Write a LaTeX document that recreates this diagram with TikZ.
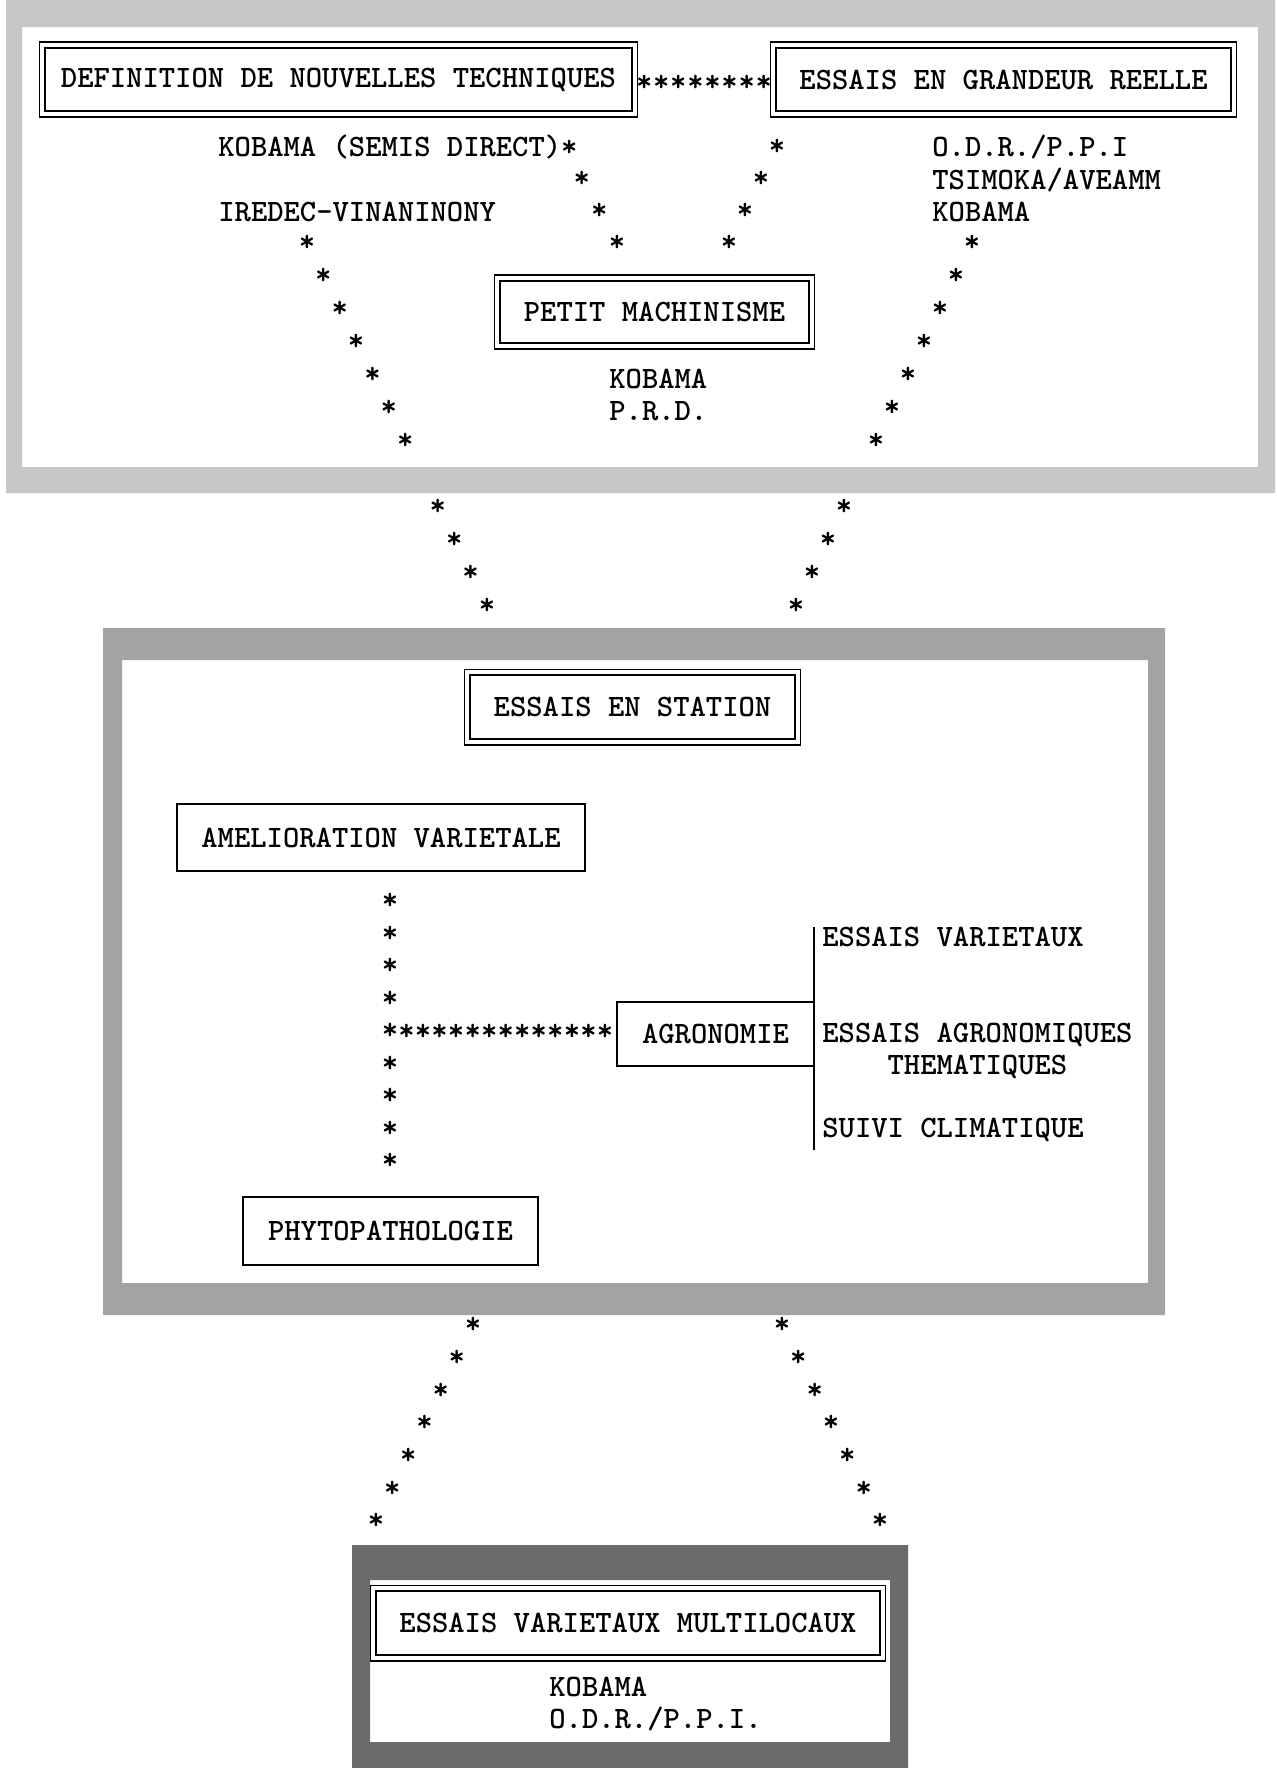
\documentclass[tikz,border=0pt]{standalone}
\usetikzlibrary{positioning,calc}
\newcommand{\prfont}{\fontsize{17.7}{18.4}\selectfont\ttfamily\bfseries}
\tikzstyle{box}=[draw,line width=1.1pt,inner sep=0pt,font=\prfont]
\tikzstyle{dbox}=[box,double,line width=0.9pt,double distance=2.2pt]
\tikzstyle{lbl}=[inner sep=0pt,anchor=base west,align=left,font=\prfont]
\tikzstyle{starmark}=[inner sep=0pt,anchor=base,yshift=-6.8pt,font=\prfont]
\tikzstyle{frm}=[even odd rule]

\begin{document}
\begin{tikzpicture}[x=0.02cm,y=-0.02cm]
\useasboundingbox (0,0) rectangle (1276,1768);

% cadres
\fill[frm,black!22] (6,0) rectangle (1275,493) (22,27) rectangle (1258,467);
\fill[frm,black!36] (103,628) rectangle (1165,1315) (122,660) rectangle (1148,1283);
\fill[frm,black!58] (352,1545) rectangle (908,1768) (370,1580) rectangle (890,1742);

% boites
\node[dbox,minimum width=11.86cm,minimum height=1.38cm] (def) at (338.5,79.5) {DEFINITION DE NOUVELLES TECHNIQUES};
\node[dbox,minimum width=9.22cm,minimum height=1.38cm] (reel) at (1003.5,79.5) {ESSAIS EN GRANDEUR REELLE};
\node[dbox,minimum width=6.3cm,minimum height=1.36cm] (petit) at (654.5,312) {PETIT MACHINISME};
\node[dbox,minimum width=6.62cm,minimum height=1.4cm] (station) at (632.5,707) {ESSAIS EN STATION};
\node[box,minimum width=8.16cm,minimum height=1.34cm] (amelio) at (381,837.5) {AMELIORATION VARIETALE};
\node[box,minimum width=3.94cm,minimum height=1.28cm] (agro) at (715.5,1034) {AGRONOMIE};
\node[box,minimum width=5.9cm,minimum height=1.36cm] (phyto) at (390.5,1231) {PHYTOPATHOLOGIE};
\node[dbox,minimum width=10.2cm,minimum height=1.4cm] (multi) at (628,1623) {ESSAIS VARIETAUX MULTILOCAUX};

% textes (base = derniere ligne)
\node[lbl] (kobsd) at (218,156.5) {KOBAMA (SEMIS DIRECT)*};
\node[lbl] (iredec) at (218,221.5) {IREDEC-VINANINONY};
\node[lbl] (partners) at (932,221.5) {O.D.R./P.P.I\\TSIMOKA/AVEAMM\\KOBAMA};
\node[lbl] (petitsub) at (609,420.5) {KOBAMA\\P.R.D.};
\node[lbl] (essvar) at (822,946.5) {ESSAIS VARIETAUX};
\node[lbl,align=center] (essagro) at (822,1074.5) {ESSAIS AGRONOMIQUES\\THEMATIQUES};
\node[lbl] (suivi) at (822,1137.5) {SUIVI CLIMATIQUE};
\node[lbl] (multisub) at (549,1728.5) {KOBAMA\\O.D.R./P.P.I.};

% extremites des liaisons
\coordinate (a1) at (564,144);  \coordinate (a2) at (617,240);
\coordinate (b1) at (777,144);  \coordinate (b2) at (729,240);
\coordinate (c1) at (307,240);  \coordinate (c2) at (487,603);
\coordinate (d1) at (972,240);  \coordinate (d2) at (796,603);
\coordinate (va) at (390,898);  \coordinate (vb) at (390,1158);
\coordinate (jn) at (390,1029); \coordinate (je) at (605,1029);
\coordinate (f1) at (473,1322); \coordinate (f2) at (376,1518);
\coordinate (g1) at (782,1322); \coordinate (g2) at (880,1518);
\coordinate (lt) at (814,927);  \coordinate (lb) at (814,1150);

% liaisons en etoiles
\foreach \k in {0,...,7}
  \node[starmark] at ($(def.east)!{(\k+0.5)/8}!(reel.west)$) {*};
\foreach \i in {1,...,3}
  \node[starmark] at ($(a1)!\i/3!(a2)$) {*};
\foreach \i in {0,...,3}
  \node[starmark] at ($(b1)!\i/3!(b2)$) {*};
\foreach \i in {0,...,6,8,9,10,11} {
  \node[starmark] at ($(c1)!\i/11!(c2)$) {*};
  \node[starmark] at ($(d1)!\i/11!(d2)$) {*};
}
\foreach \i in {0,...,8}
  \node[starmark] at ($(va)!\i/8!(vb)$) {*};
\foreach \k in {1,...,13}
  \node[starmark] at ($(jn)!\k/13!(je)$) {*};
\foreach \i in {0,...,6} {
  \node[starmark] at ($(f1)!\i/6!(f2)$) {*};
  \node[starmark] at ($(g1)!\i/6!(g2)$) {*};
}

\draw[line width=0.9pt] (lt) -- (lb);
\end{tikzpicture}
\end{document}
